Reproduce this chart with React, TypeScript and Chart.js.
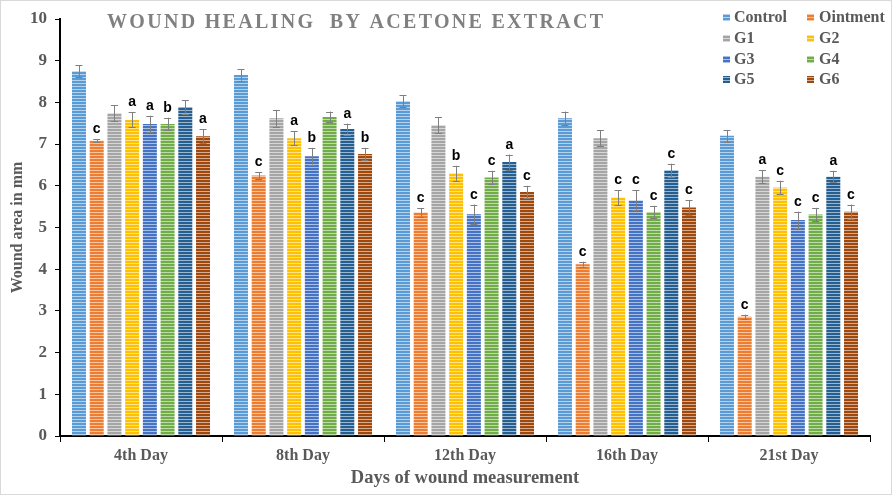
import React, { useEffect, useRef } from "react";
import { Chart, registerables } from "chart.js";

Chart.register(...registerables);

const days = ["4th Day", "8th Day", "12th Day", "16th Day", "21st Day"];
const seriesNames = ["Control", "Ointment", "G1", "G2", "G3", "G4", "G5", "G6"];
const seriesColors = ["#5B9BD5", "#ED7D31", "#A5A5A5", "#FFC000", "#4472C4", "#70AD47", "#255E91", "#9E480E"];

const control = [8.75, 8.66, 8.03, 7.62, 7.2];
const ointment = [7.08, 6.25, 5.36, 4.12, 2.86];
const g1 = [7.74, 7.62, 7.45, 7.14, 6.22];
const g2 = [7.58, 7.14, 6.3, 5.72, 5.96];
const g3 = [7.48, 6.71, 5.32, 5.65, 5.18];
const g4 = [7.48, 7.65, 6.2, 5.37, 5.31];
const g5 = [7.89, 7.36, 6.57, 6.37, 6.22];
const g6 = [7.19, 6.76, 5.85, 5.48, 5.38];

const controlErr = [0.14, 0.14, 0.14, 0.16, 0.14];
const ointmentErr = [0.04, 0.08, 0.1, 0.06, 0.05];
const g1Err = [0.19, 0.2, 0.19, 0.19, 0.16];
const g2Err = [0.18, 0.17, 0.18, 0.18, 0.16];
const g3Err = [0.2, 0.2, 0.23, 0.24, 0.2];
const g4Err = [0.15, 0.13, 0.16, 0.15, 0.16];
const g5Err = [0.16, 0.13, 0.18, 0.16, 0.14];
const g6Err = [0.17, 0.15, 0.15, 0.17, 0.17];

const controlSig = ["", "", "", "", ""];
const ointmentSig = ["c", "c", "c", "c", "c"];
const g1Sig = ["", "", "", "", "a"];
const g2Sig = ["a", "a", "b", "c", "c"];
const g3Sig = ["a", "b", "c", "c", "c"];
const g4Sig = ["b", "", "c", "c", "c"];
const g5Sig = ["", "a", "a", "c", "a"];
const g6Sig = ["a", "b", "c", "c", "c"];

const yTicks = [0, 1, 2, 3, 4, 5, 6, 7, 8, 9, 10];

const titleText = "WOUND HEALING  BY ACETONE EXTRACT";
const yTitle = "Wound area in mm";
const xTitle = "Days of wound measurement";

const values = [control, ointment, g1, g2, g3, g4, g5, g6];
const errors = [controlErr, ointmentErr, g1Err, g2Err, g3Err, g4Err, g5Err, g6Err];
const sigs = [controlSig, ointmentSig, g1Sig, g2Sig, g3Sig, g4Sig, g5Sig, g6Sig];

const SERIF = '"Liberation Serif", "Times New Roman", serif';
const TEXT = "#595959";

function makeStripe(ctx: CanvasRenderingContext2D, color: string) {
  const c = document.createElement("canvas");
  c.width = 4;
  c.height = 3;
  const x = c.getContext("2d")!;
  x.fillStyle = color;
  x.fillRect(0, 0, 4, 3);
  x.fillStyle = "rgba(255,255,255,0.55)";
  x.fillRect(0, 2, 4, 1);
  return ctx.createPattern(c, "repeat")!;
}

export default function App() {
  const ref = useRef<HTMLCanvasElement | null>(null);

  useEffect(() => {
    document.body.style.margin = "0";
    const canvas = ref.current!;
    const ctx0 = canvas.getContext("2d")!;
    const patterns = seriesColors.map((c) => makeStripe(ctx0, c));

    const overlay = {
      id: "overlay",
      beforeDraw(chart: any) {
        const ctx = chart.ctx;
        ctx.save();
        ctx.fillStyle = "#ffffff";
        ctx.fillRect(0, 0, chart.width, chart.height);
        ctx.strokeStyle = "#d9d9d9";
        ctx.lineWidth = 1;
        ctx.strokeRect(0.5, 0.5, chart.width - 1, chart.height - 1);
        ctx.restore();
      },
      afterDatasetsDraw(chart: any) {
        const ctx = chart.ctx;
        const ys = chart.scales.y;
        ctx.save();
        values.forEach((vals, i) => {
          const meta = chart.getDatasetMeta(i);
          vals.forEach((v, j) => {
            const el = meta.data[j];
            const x = el.x;
            const e = errors[i][j];
            const yt = ys.getPixelForValue(v + e);
            const yb = ys.getPixelForValue(v - e);
            ctx.strokeStyle = "#7f7f7f";
            ctx.lineWidth = 1;
            ctx.beginPath();
            ctx.moveTo(Math.round(x) + 0.5, yt);
            ctx.lineTo(Math.round(x) + 0.5, yb);
            ctx.moveTo(x - 3.5, Math.round(yt) + 0.5);
            ctx.lineTo(x + 3.5, Math.round(yt) + 0.5);
            ctx.moveTo(x - 3.5, Math.round(yb) + 0.5);
            ctx.lineTo(x + 3.5, Math.round(yb) + 0.5);
            ctx.stroke();
            const s = sigs[i][j];
            if (s) {
              ctx.fillStyle = "#000000";
              ctx.font = 'bold 14px "Liberation Sans", Arial, sans-serif';
              ctx.textAlign = "center";
              ctx.textBaseline = "alphabetic";
              ctx.fillText(s, x, yt - 6);
            }
          });
        });
        ctx.restore();
      },
      afterDraw(chart: any) {
        const ctx = chart.ctx;
        ctx.save();
        ctx.fillStyle = "#808080";
        ctx.font = `bold 20px ${SERIF}`;
        (ctx as any).letterSpacing = "2.3px";
        ctx.textAlign = "left";
        ctx.textBaseline = "alphabetic";
        ctx.fillText(titleText, 107, 28);
        (ctx as any).letterSpacing = "0px";
        const rowsY = [17, 38, 59, 79];
        const colSq = [723, 807];
        const colTx = [734, 819];
        ctx.font = `bold 16px ${SERIF}`;
        ctx.textBaseline = "middle";
        seriesNames.forEach((name, i) => {
          const r = Math.floor(i / 2);
          const c = i % 2;
          ctx.fillStyle = patterns[i];
          ctx.fillRect(colSq[c], rowsY[r] - 3, 7, 7);
          ctx.fillStyle = TEXT;
          ctx.fillText(name, colTx[c], rowsY[r] + 1);
        });
        ctx.restore();
      },
    };

    const chart = new Chart(canvas, {
      type: "bar",
      data: {
        labels: days,
        datasets: seriesNames.map((n, i) => ({
          label: n,
          data: values[i],
          backgroundColor: patterns[i],
          borderWidth: 0,
          categoryPercentage: 0.875,
          barPercentage: 0.79,
        })),
      },
      options: {
        animation: false,
        responsive: false,
        devicePixelRatio: 1,
        layout: { padding: { top: 19, right: 22, left: 0, bottom: 0 } },
        plugins: {
          legend: { display: false },
          title: { display: false },
          tooltip: { enabled: false },
        },
        scales: {
          x: {
            offset: true,
            grid: {
              display: true,
              offset: true,
              drawOnChartArea: false,
              drawTicks: true,
              tickLength: 6,
              color: "#000000",
              lineWidth: 1,
            },
            border: { display: true, color: "#000000", width: 2 },
            ticks: {
              color: TEXT,
              padding: 4,
              font: { family: SERIF, size: 16, weight: "bold" },
            },
            title: {
              display: true,
              text: xTitle,
              color: TEXT,
              padding: { top: 4, bottom: 6 },
              font: { family: SERIF, size: 18.5, weight: "bold" },
            },
            afterFit: (s: any) => {
              s.height = 59;
            },
          },
          y: {
            min: 0,
            max: 10,
            afterBuildTicks: (s: any) => {
              s.ticks = yTicks.map((v) => ({ value: v }));
            },
            grid: {
              display: true,
              drawOnChartArea: false,
              drawTicks: true,
              tickLength: 5,
              color: "#000000",
              lineWidth: 1,
            },
            border: { display: true, color: "#000000", width: 2 },
            ticks: {
              color: TEXT,
              padding: 8,
              font: { family: SERIF, size: 17, weight: "bold" },
            },
            title: {
              display: true,
              text: yTitle,
              color: TEXT,
              padding: { top: 8, bottom: 4 },
              font: { family: SERIF, size: 16, weight: "bold" },
            },
            afterFit: (s: any) => {
              s.width = 60;
            },
          },
        },
      },
      plugins: [overlay],
    } as any);

    return () => chart.destroy();
  }, []);

  return (
    <div style={{ position: "absolute", left: 0, top: 0, width: 892, height: 495 }}>
      <canvas ref={ref} width={892} height={495} style={{ width: 892, height: 495, display: "block" }} />
    </div>
  );
}
